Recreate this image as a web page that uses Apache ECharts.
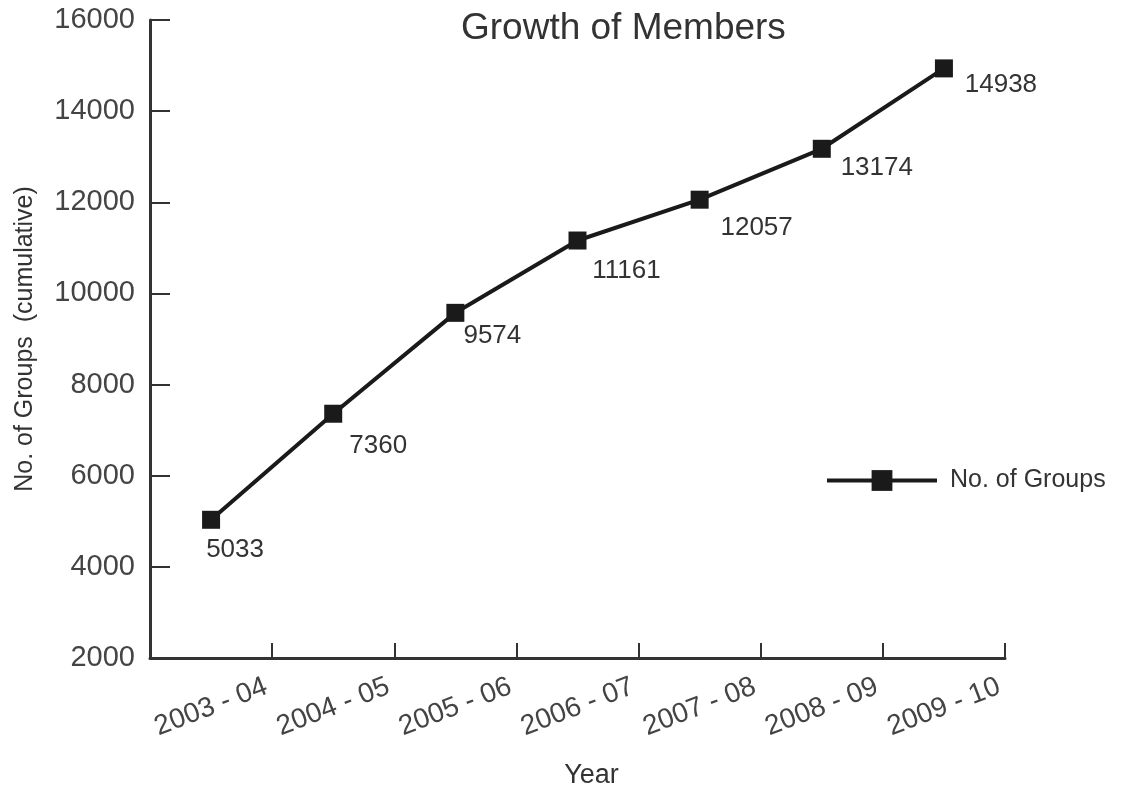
<!DOCTYPE html>
<html>
<head>
<meta charset="utf-8">
<script src="https://cdn.jsdelivr.net/npm/echarts@6/dist/echarts.min.js"></script>
<style>
  html, body { margin: 0; padding: 0; background: #fff; }
  #main { width: 1123px; height: 794px; }
</style>
</head>
<body>
<div id="main"></div>
<script>
var years = ['2003 - 04', '2004 - 05', '2005 - 06', '2006 - 07', '2007 - 08', '2008 - 09', '2009 - 10'];
var groups = [5033, 7360, 9574, 11161, 12057, 13174, 14938];
var yTicks = [2000, 4000, 6000, 8000, 10000, 12000, 14000, 16000];

// where each value label sits relative to its point
var labelOffsets = [[24, 30], [45, 32], [37, 23], [49, 30], [57, 28], [55, 19], [57, 16]];

var font = 'Liberation Sans, Arial, sans-serif';

var chart = echarts.init(document.getElementById('main'));
chart.setOption({
    backgroundColor: '#fff',
    animation: false,
    title: {
        text: 'Growth of Members',
        left: 456,
        top: 5,
        textStyle: { fontFamily: font, fontSize: 37, fontWeight: 'normal', color: '#333' }
    },
    legend: {
        left: 820,
        top: 463,
        itemWidth: 110,
        itemHeight: 26,
        itemGap: 10,
        lineStyle: { width: 4, color: '#1a1a1a' },
        textStyle: { fontFamily: font, fontSize: 25, color: '#333', padding: [0, 0, 0, 8] },
        data: ['No. of Groups']
    },
    grid: { left: 150, right: 118, top: 20, bottom: 136, containLabel: false },
    xAxis: {
        type: 'category',
        data: years,
        boundaryGap: true,
        name: 'Year',
        nameLocation: 'middle',
        nameGap: 104,
        nameTextStyle: { fontFamily: font, fontSize: 27, color: '#333', padding: [0, 0, 0, 28] },
        axisLine: { lineStyle: { color: '#333', width: 3 } },
        axisTick: { show: true, inside: true, length: 15, lineStyle: { color: '#333', width: 2 } },
        axisLabel: {
            rotate: 21,
            align: 'center',
            verticalAlign: 'middle',
            margin: 49,
            fontFamily: font,
            fontSize: 28,
            color: '#444'
        },
        splitLine: { show: false }
    },
    yAxis: {
        type: 'value',
        min: yTicks[0],
        max: yTicks[yTicks.length - 1],
        interval: 2000,
        name: 'No. of Groups  (cumulative)',
        nameLocation: 'middle',
        nameGap: 112,
        nameTextStyle: { fontFamily: font, fontSize: 25, color: '#333' },
        axisLine: { show: true, lineStyle: { color: '#333', width: 3 } },
        axisTick: { show: true, inside: true, length: 20, lineStyle: { color: '#333', width: 2 } },
        axisLabel: {
            margin: 15,
            fontFamily: font,
            fontSize: 29,
            color: '#444',
            formatter: function (v) { return String(v); }
        },
        splitLine: { show: false }
    },
    series: [{
        name: 'No. of Groups',
        type: 'line',
        symbol: 'rect',
        symbolSize: 18,
        lineStyle: { color: '#1a1a1a', width: 4 },
        itemStyle: { color: '#1a1a1a' },
        data: groups.map(function (v, i) {
            return {
                value: v,
                label: {
                    show: true,
                    position: 'inside',
                    align: 'center',
                    verticalAlign: 'middle',
                    offset: labelOffsets[i],
                    fontFamily: font,
                    fontSize: 26,
                    color: '#333'
                }
            };
        })
    }]
});
</script>
</body>
</html>
